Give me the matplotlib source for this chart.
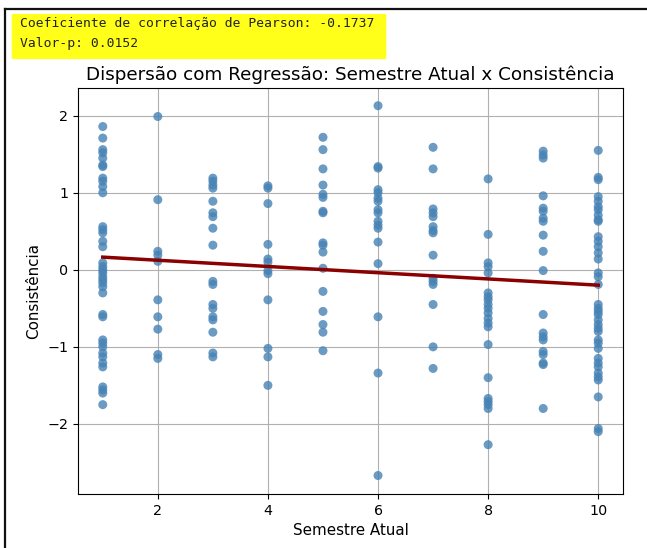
import numpy as np
import matplotlib
matplotlib.use("Agg")
import matplotlib.pyplot as plt
from matplotlib.patches import FancyBboxPatch

# ---- data ----
sem1 = [1.86, 1.71, 1.56, 1.52, 1.45, 1.36, 1.34, 1.19, 1.15, 1.08, 1.00,
        0.56, 0.52, 0.48, 0.37, 0.30, 0.09, 0.04, 0.00, -0.04, -0.09, -0.13,
        -0.17, -0.22, -0.30, -0.58, -0.61, -0.91, -0.95, -1.00, -1.08, -1.13,
        -1.21, -1.26, -1.52, -1.56, -1.60, -1.75]
sem2 = [1.99, 0.91, 0.24, 0.19, 0.11, -0.39, -0.61, -0.77, -1.10, -1.15]
sem3 = [1.19, 1.15, 1.10, 1.06, 0.89, 0.74, 0.69, 0.54, 0.32, -0.15, -0.19,
        -0.45, -0.50, -0.61, -0.65, -0.81, -1.08, -1.13]
sem4 = [1.09, 1.06, 0.86, 0.33, 0.14, 0.10, -0.01, -0.05, -0.39, -1.02,
        -1.13, -1.50]
sem5 = [1.72, 1.56, 1.31, 1.10, 0.98, 0.94, 0.76, 0.74, 0.35, 0.32, 0.23,
        0.02, -0.28, -0.54, -0.71, -0.81, -1.05]
sem6 = [2.13, 1.34, 1.32, 1.04, 1.00, 0.93, 0.89, 0.78, 0.74, 0.63, 0.58,
        0.54, 0.36, 0.08, -0.61, -1.34, -2.67]
sem7 = [1.59, 1.31, 0.79, 0.74, 0.69, 0.56, 0.51, 0.48, 0.19, -0.11, -0.15,
        -0.19, -0.45, -1.00, -1.28]
sem8 = [1.18, 0.46, 0.09, 0.04, -0.04, -0.30, -0.35, -0.39, -0.45, -0.50,
        -0.56, -0.63, -0.69, -0.74, -0.97, -1.40, -1.67, -1.71, -1.75, -1.80,
        -2.27]
sem9 = [1.54, 1.49, 1.45, 0.96, 0.80, 0.76, 0.67, 0.63, 0.45, 0.24, -0.01,
        -0.58, -0.82, -0.87, -0.91, -1.06, -1.10, -1.21, -1.23, -1.80]
sem10 = [1.55, 1.20, 1.17, 0.95, 0.89, 0.82, 0.78, 0.71, 0.65, 0.63, 0.43,
         0.37, 0.30, 0.22, 0.14, -0.04, -0.09, -0.19, -0.45, -0.50, -0.54,
         -0.58, -0.65, -0.71, -0.76, -0.80, -0.91, -0.95, -1.02, -1.15, -1.21,
         -1.26, -1.34, -1.39, -1.43, -1.65, -2.06, -2.10]

semesters = [1, 2, 3, 4, 5, 6, 7, 8, 9, 10]
groups = [sem1, sem2, sem3, sem4, sem5, sem6, sem7, sem8, sem9, sem10]

pearson_text = "Coeficiente de correlação de Pearson: -0.1737"
pvalue_text = "Valor-p: 0.0152"
title = "Dispersão com Regressão: Semestre Atual x Consistência"
xlabel = "Semestre Atual"
ylabel = "Consistência"

x = np.concatenate([[s] * len(g) for s, g in zip(semesters, groups)]).astype(float)
y = np.concatenate([np.array(g, dtype=float) for g in groups])

# ---- figure ----
W, H = 647, 548
fig = plt.figure(figsize=(W / 100, H / 100), dpi=100)

# screenshot frame
fig.add_artist(plt.Line2D([5 / W, 5 / W], [0, 1 - 9 / H], transform=fig.transFigure,
                          color="#111111", lw=1.6))
fig.add_artist(plt.Line2D([5 / W, 1], [1 - 9 / H, 1 - 9 / H], transform=fig.transFigure,
                          color="#111111", lw=1.6))

# yellow highlight
fig.add_artist(FancyBboxPatch((13 / W, 1 - 58 / H), 372 / W, 43 / H,
                              boxstyle="round,pad=0.002",
                              transform=fig.transFigure, facecolor="#ffff1a",
                              edgecolor="none", zorder=0))
fig.text(20 / W, 1 - 24 / H, pearson_text, family="DejaVu Sans Mono",
         fontsize=9.4, va="center", ha="left", color="#222222")
fig.text(20 / W, 1 - 44 / H, pvalue_text, family="DejaVu Sans Mono",
         fontsize=9.4, va="center", ha="left", color="#222222")

ax = fig.add_axes([78 / W, 1 - 494 / H, (623 - 78) / W, (494 - 88) / H])
ax.scatter(x, y, s=42, color="#4682b4", alpha=0.8, edgecolors="none", zorder=3)

slope, intercept = np.polyfit(x, y, 1)
xl = np.array([x.min(), x.max()])
ax.plot(xl, intercept + slope * xl, color="darkred", lw=2.5, zorder=4)

ax.set_xlim(0.55, 10.45)
ax.set_ylim(-2.91, 2.36)
ax.set_xticks([2, 4, 6, 8, 10])
ax.set_yticks([-2, -1, 0, 1, 2])
ax.grid(True, color="#b0b0b0", lw=0.8, zorder=0)
ax.set_axisbelow(True)
ax.set_title(title, fontsize=13.2, pad=6)
ax.set_xlabel(xlabel, fontsize=10.9)
ax.set_ylabel(ylabel, fontsize=10.9)
ax.tick_params(labelsize=10.3)

fig.savefig("out.png", dpi=100)
